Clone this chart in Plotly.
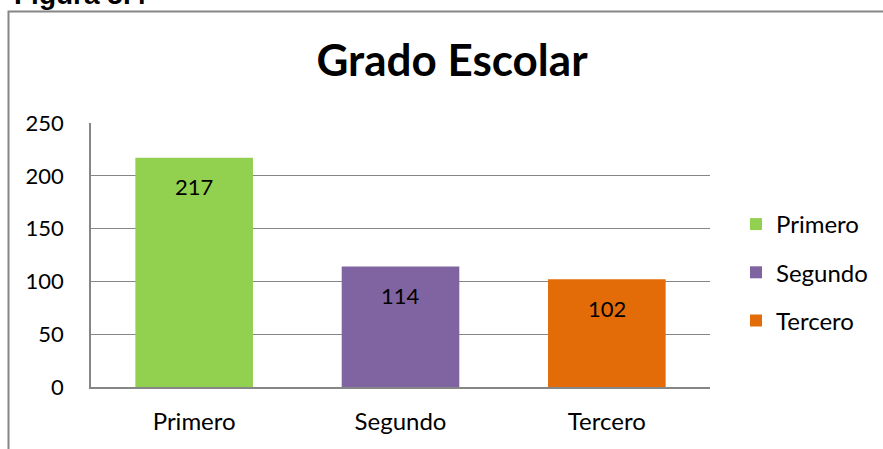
import plotly.graph_objects as go

categories = ["Primero", "Segundo", "Tercero"]
values = [217, 114, 102]
colors = ["#92D050", "#8064A2", "#E36C09"]
y_ticks = [0, 50, 100, 150, 200, 250]

W, H = 883, 449
L, R, T, B = 91, 173, 123, 62
pw, ph = W - L - R, H - T - B

def px_x(p):
    return (p - L) / pw

def px_y(p):
    return (H - B - p) / ph

FONT = "Lato"
NUM_SIZE = 22
TXT_SIZE = 24

fig = go.Figure()
for c, v, col in zip(categories, values, colors):
    fig.add_trace(go.Bar(
        x=[c], y=[v], name=c, marker=dict(color=col, line=dict(width=0)),
        legendgroup=c,
    ))

annotations = [dict(x=c, y=v, xref="x", yref="y", text=str(v), showarrow=False,
                    yanchor="middle", xanchor="center", yshift=-29,
                    font=dict(family=FONT, size=NUM_SIZE, color="#000000"))
               for c, v in zip(categories, values)]
annotations.append(dict(text="<b>Figura 5.4</b>", xref="paper", yref="paper",
                        x=px_x(12), y=px_y(12), xanchor="left", yanchor="bottom",
                        showarrow=False,
                        font=dict(family="Liberation Sans", size=28, color="#000000")))

fig.update_layout(
    width=W, height=H,
    margin=dict(l=L, r=R, t=T, b=B, autoexpand=False),
    paper_bgcolor="white", plot_bgcolor="white",
    barmode="overlay", bargap=0.43,
    font=dict(family=FONT, size=TXT_SIZE, color="#000000"),
    title=dict(text="<b>Grado Escolar</b>", x=452 / W, xref="container", xanchor="center",
               y=(H - 61) / H, yref="container", yanchor="middle",
               font=dict(family=FONT, size=44, color="#000000")),
    xaxis=dict(categoryorder="array", categoryarray=categories,
               showline=True, linecolor="#868686", linewidth=1.5,
               showgrid=False, ticks="", ticklabelstandoff=12,
               tickfont=dict(family=FONT, size=TXT_SIZE)),
    yaxis=dict(range=[0, 250], tickvals=y_ticks, showline=True, linecolor="#868686",
               linewidth=1.5, showgrid=True, gridcolor="#868686", gridwidth=1,
               ticks="", ticklabelstandoff=21, zeroline=False,
               tickfont=dict(family=FONT, size=NUM_SIZE)),
    legend=dict(x=px_x(736), xanchor="left", y=px_y(202), yanchor="top",
                tracegroupgap=14, font=dict(family=FONT, size=TXT_SIZE),
                itemwidth=30, bgcolor="rgba(0,0,0,0)"),
    shapes=[dict(type="rect", xref="paper", yref="paper",
                 x0=px_x(8.5), x1=px_x(900), y0=px_y(470), y1=px_y(11.5),
                 line=dict(color="#868686", width=2), fillcolor="rgba(0,0,0,0)",
                 layer="below")],
    annotations=annotations,
)

fig.write_html("out.html", config={"displayModeBar": False},
               post_script="document.body.style.margin='0px';")
